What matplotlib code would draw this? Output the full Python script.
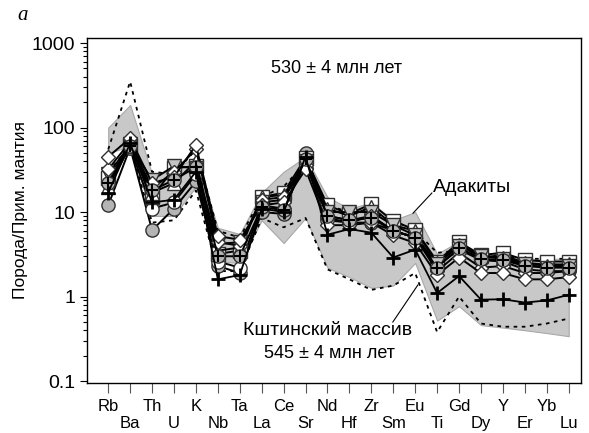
import matplotlib
matplotlib.use("Agg")
import matplotlib.pyplot as plt
import numpy as np

plt.rcParams['font.family'] = ['Liberation Sans', 'DejaVu Sans']

elements = ['Rb', 'Ba', 'Th', 'U', 'K', 'Nb', 'Ta', 'La', 'Ce', 'Sr', 'Nd',
            'Hf', 'Zr', 'Sm', 'Eu', 'Ti', 'Gd', 'Dy', 'Y', 'Er', 'Yb', 'Lu']

# adakite field
adak_hi = [100, 185, 28, 32, 45, 6.5, 5.5, 17, 30, 45, 15, 11, 13, 8, 10,
           3.2, 4.5, 3.2, 3.2, 2.8, 2.8, 2.8]
adak_lo = [50, 60, 9, 9, 20, 2.6, 2.5, 8, 4.3, 8.5, 2.2, 1.7, 1.27, 1.35, 2.5,
           0.52, 0.77, 0.46, 0.43, 0.40, 0.37, 0.34]

# dashed envelope
dash_hi = [55, 350, 30, 28, 55, 6, 5, 15, 20, 38, 12, 10, 10, 8, 6,
           3.3, 3.5, 3.2, 3.0, 2.8, 2.8, 2.8]
dash_lo = [30, 60, 7.5, 8, 18, 2.0, 2.0, 8.5, 6.6, 8.5, 2.1, 1.6, 1.2, 1.35,
           1.9, 0.38, 1.0, 0.48, 0.44, 0.44, 0.48, 0.55]

# Kshtinsky massif samples
s_gcirc = [12, 58, 6.1, 11, 23, 2.3, 1.9, 10, 9.5, 50, 8.5, 7.5, 7.5, 6, 5,
           2.3, 3.6, 2.7, 2.6, 2.1, 2.0, 2.0]
s_square = [25, 62, 15, 33, 35, 3.2, 3.5, 15, 17, 44, 12, 9.5, 12.5, 7.8, 6.2,
            2.6, 4.4, 3.1, 3.3, 2.7, 2.6, 2.6]
s_diam = [45, 75, 22, 26, 62, 5.2, 4.7, 12, 13, 32, 7, 7, 7.5, 5.3, 4.3,
          1.8, 2.9, 1.9, 1.9, 1.6, 1.6, 1.7]
s_diam2 = [32, 68, 19, 30, 55, 4.4, 4.0, 14, 15, 36, 9, 8, 9, 6, 5,
           2.0, 3.3, 2.2, 2.3, 1.9, 1.9, 2.0]
s_triup = [20, 60, 17, 22, 40, 3.5, 3.8, 15, 16, 40, 11, 9, 11.5, 7, 6,
           2.5, 4.1, 3.0, 2.9, 2.5, 2.3, 2.4]
s_tridn = [28, 63, 24, 35, 33, 4.2, 4.4, 13, 14, 40, 10, 10, 10, 7, 5.3,
           2.4, 4.0, 3.0, 2.8, 2.4, 2.2, 2.3]
s_ocirc = [24, 58, 11, 13, 28, 2.6, 2.2, 12, 11, 38, 8, 7.5, 9, 6, 5,
           2.4, 4.2, 2.9, 3.1, 2.5, 2.4, 2.4]
s_cplus = [22, 60, 18, 24, 34, 3.0, 3.0, 11.5, 10.5, 43, 9, 8, 8.5, 6, 5,
           2.2, 3.8, 2.8, 2.7, 2.3, 2.2, 2.2]
s_cross = [17, 65, 13, 14, 30, 1.6, 1.8, 11, 10, 45, 5.4, 6.3, 5.7, 2.9, 3.6,
           1.1, 1.75, 0.92, 0.93, 0.85, 0.9, 1.05]

x = np.arange(len(elements))

fig = plt.figure(figsize=(5.89, 4.33), dpi=100)
ax = fig.add_axes([0.148, 0.1155, 0.838, 0.797])

ax.fill_between(x, adak_lo, adak_hi, facecolor='#c8c8c8', edgecolor='#a8a8a8',
                linewidth=0.8, zorder=1)
ax.plot(x, dash_hi, color='k', ls=(0, (2, 2.5)), lw=1.3, zorder=2)
ax.plot(x, dash_lo, color='k', ls=(0, (2, 2.5)), lw=1.3, zorder=2)

ms = 9.5
edge = '#303030'
series = [
    (s_gcirc, 'o', '#b4b4b4', ms),
    (s_ocirc, 'o', 'white', ms),
    (s_square, 's', 'white', ms),
    (s_triup, '^', 'white', ms),
    (s_tridn, 'v', '#c4c4c4', ms),
    (s_diam2, 'D', 'white', ms * 0.8),
    (s_diam, 'D', 'white', ms * 0.8),
    (s_cplus, 'o', '#b4b4b4', ms),
]
for vals, mk, fc, size in series:
    ax.plot(x, vals, color='k', lw=1.4, marker=mk, ms=size, mfc=fc,
            mec=edge, mew=1.0, zorder=3)
ax.plot(x, s_cplus, ls='none', marker='+', ms=ms * 0.9, mec='k', mew=1.5,
        zorder=4)
ax.plot(x, s_cross, color='k', lw=1.3, marker='+', ms=ms * 1.1, mec='k',
        mew=2.0, zorder=4)

ax.set_yscale('log')
ax.set_ylim(0.095, 1150)
ax.set_xlim(-0.96, 21.55)
ax.set_yticks([0.1, 1, 10, 100, 1000])
ax.set_yticklabels(['0.1', '1', '10', '100', '1000'], fontsize=14)
ax.tick_params(axis='y', which='major', direction='out', length=5, width=0.8,
               pad=3.5)
ax.tick_params(axis='y', which='minor', direction='out', length=3, width=0.8)

ax.set_xticks(x[0::2], elements[0::2], fontsize=12)
ax.set_xticks(x[1::2], elements[1::2], minor=True, fontsize=12)
ax.tick_params(axis='x', which='both', direction='out', length=7, width=0.8,
               color='#555555')
ax.tick_params(axis='x', which='major', pad=4.5)
ax.tick_params(axis='x', which='minor', pad=16.5)

for sp in ax.spines.values():
    sp.set_linewidth(1.0)

ax.set_ylabel('Порода/Прим. мантия', fontsize=12.5, labelpad=3)

ax.text(10.4, 506, '530 ± 4 млн лет', fontsize=13, ha='center', va='center')
ax.text(14.8, 19.5, 'Адакиты', fontsize=14, ha='left', va='center')
ax.plot([14.76, 13.9], [16.8, 9.7], color='k', lw=0.8)
ax.text(10.0, 0.40, 'Кштинский массив', fontsize=14, ha='center', va='center')
ax.text(10.1, 0.215, '545 ± 4 млн лет', fontsize=13, ha='center', va='center')
ax.plot([12.98, 14.12], [0.50, 1.37], color='k', lw=0.8)

fig.text(0.038, 0.965, 'a', fontsize=15, style='italic',
         family=['Liberation Serif', 'DejaVu Serif'], ha='center', va='center')

fig.savefig('out.png', dpi=100)
